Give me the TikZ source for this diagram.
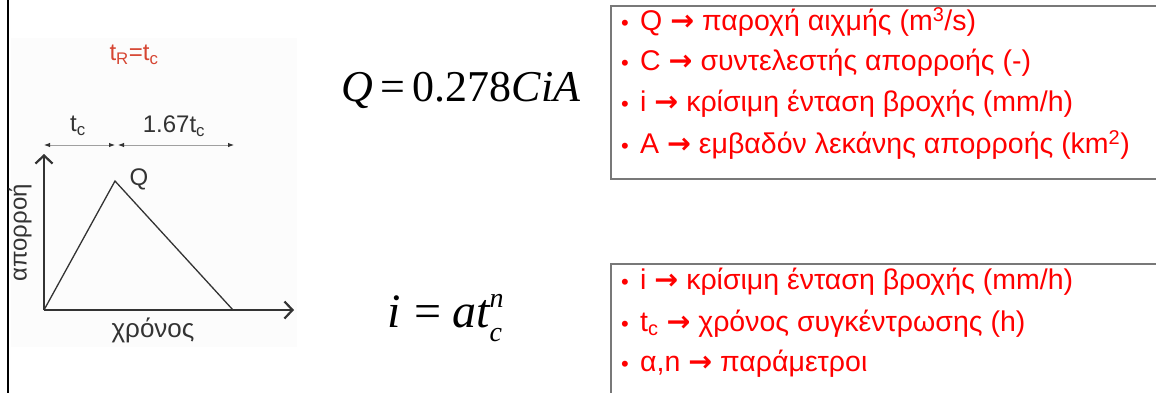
\documentclass[tikz,border=0pt]{standalone}
\usepackage{fontspec}
\setmainfont{Liberation Sans}
\newfontfamily\eqfont{Liberation Serif}
\newfontfamily\arrfont{DejaVu Sans}
\usepackage{tikz}
\usetikzlibrary{arrows.meta, positioning}
\definecolor{LineGray}{RGB}{51,51,51}
\definecolor{DimGray}{RGB}{160,160,160}
\definecolor{BoxGray}{RGB}{120,120,120}
\definecolor{TitleRed}{RGB}{214,69,50}
\definecolor{ItemRed}{RGB}{255,0,0}
\newcommand\itembul{\makebox[19pt][l]{\fontsize{22}{22}\selectfont\textbullet}}
\newcommand\itemarr{{\arrfont\bfseries →}}
\newcommand\eqsub[2]{\makebox[0pt][l]{\raisebox{20pt}{\fontsize{28}{28}\selectfont\itshape #2}}\raisebox{-14pt}{\fontsize{28}{28}\selectfont\itshape #1}}

\begin{document}
\begin{tikzpicture}[x=1pt,y=-1pt,
        axis/.style={-{Straight Barb[length=8pt,width=17pt,line width=2.2pt]},
                     line width=2.6pt,LineGray},
        hydro/.style={line width=1.3pt,LineGray},
        dim/.style={{Latex[length=6pt,width=4.5pt,color=LineGray]}-{Latex[length=6pt,width=4.5pt,color=LineGray]},
                    line width=0.9pt,DimGray},
        lbl/.style={font=\fontsize{24}{26}\selectfont,text=LineGray},
        eq/.style={font=\eqfont\fontsize{44}{48}\selectfont},
        infobox/.style={draw=BoxGray,line width=2pt},
        item/.style={anchor=west,inner sep=0pt,text=ItemRed,
                     font=\fontsize{28.5}{30}\selectfont}]
  \useasboundingbox (0,0) rectangle (1156,392);
  \fill[white] (0,0) rectangle (1156,392);
  \draw[line width=2.6pt] (8,-5) -- (8,400);

  % hydrograph
  \fill[black!1] (11,38) rectangle (297,347);
  \node[font=\fontsize{24}{26}\selectfont,text=TitleRed] (tRtc) at (134,55)
        {t\textsubscript{R}=t\textsubscript{c}};
  \coordinate (O)    at (44,310);
  \coordinate (peak) at (115,181);
  \coordinate (tend) at (233,310);
  \coordinate (ytop) at (44,154);
  \coordinate (xend) at (294,310);
  \coordinate (d0) at (44,145);
  \coordinate (d1) at (115,145);
  \coordinate (d2) at (118,145);
  \coordinate (d3) at (234,145);
  \draw[dim] (d0) -- (d1);
  \draw[dim] (d2) -- (d3);
  \node[lbl] (tc)   at (78,126)  {t\textsubscript{c}};
  \node[lbl] (tc67) at (174,126) {1.67t\textsubscript{c}};
  \draw[hydro] (O) -- (peak) -- (tend);
  \draw[axis] (O) -- (ytop);
  \draw[axis] (O) -- (xend);
  \node[lbl] (Q) at (139,179) {Q};
  \node[lbl,rotate=90] (runoff) at (20,233) {απορροή};
  \node[lbl,font=\fontsize{26}{28}\selectfont] (time) at (153,330) {χρόνος};

  % formulas
  \node[eq] (rational) at (461,90)
        {\itshape Q\upshape\,=\,0.278\itshape CiA};
  \node[eq,font=\eqfont\fontsize{48}{50}\selectfont] (idf) at (445,318)
        {\itshape i\upshape\hspace{13pt}=\hspace{11pt}\itshape at\eqsub{c}{n}};

  % definitions
  \draw[infobox] (611,6) rectangle (1170,179);
  \node[item] (q1) at (621,22)  {\itembul Q \itemarr{} παροχή αιχμής (m\textsuperscript{3}/s)};
  \node[item] (q2) at (621,63)  {\itembul C \itemarr{} συντελεστής απορροής (-)};
  \node[item] (q3) at (621,104) {\itembul i \itemarr{} κρίσιμη ένταση βροχής (mm/h)};
  \node[item] (q4) at (621,145) {\itembul A \itemarr{} εμβαδόν λεκάνης απορροής (km\textsuperscript{2})};
  \draw[infobox] (611,264) rectangle (1170,400);
  \node[item] (p1) at (621,282) {\itembul i \itemarr{} κρίσιμη ένταση βροχής (mm/h)};
  \node[item] (p2) at (621,324) {\itembul t\textsubscript{c} \itemarr{} χρόνος συγκέντρωσης (h)};
  \node[item] (p3) at (621,364) {\itembul α,n \itemarr{} παράμετροι};
\end{tikzpicture}
\end{document}
